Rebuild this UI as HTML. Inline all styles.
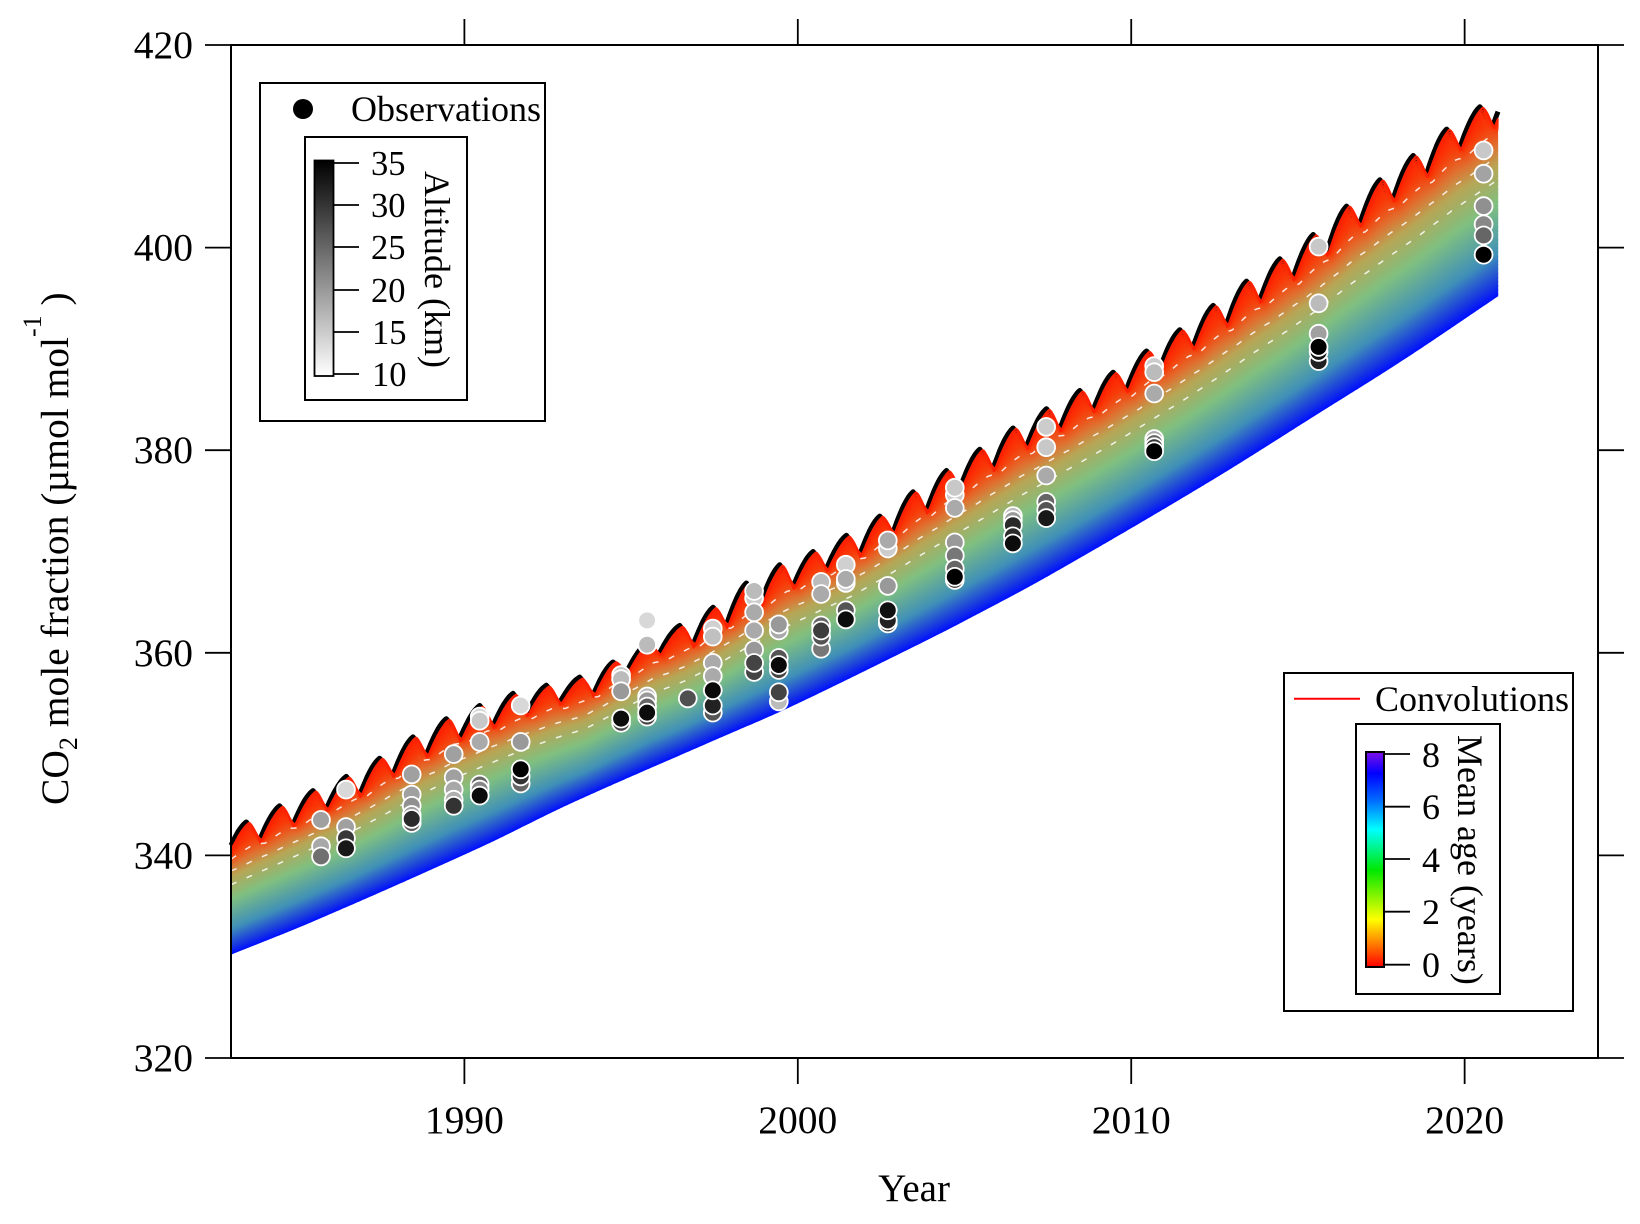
<!DOCTYPE html>
<html lang="en">
<head>
<meta charset="utf-8">
<title>CO2 mole fraction with mean age convolutions</title>
<style>
html,body{margin:0;padding:0;background:#fff;width:1640px;height:1224px;overflow:hidden}
svg{display:block}
text{font-family:"Liberation Serif","DejaVu Serif",serif;fill:#000}
</style>
</head>
<body>
<svg id="chart" xmlns="http://www.w3.org/2000/svg" width="1640" height="1224" viewBox="0 0 1640 1224">
  <defs>
    <linearGradient id="altGrad" x1="0" y1="0" x2="0" y2="1">
      <stop offset="0" stop-color="#000"/><stop offset="1" stop-color="#fff"/>
    </linearGradient>
    <linearGradient id="ageGrad" x1="0" y1="0" x2="0" y2="1">
      <stop offset="0" stop-color="#8010e8"/><stop offset="0.1" stop-color="#0000ff"/>
      <stop offset="0.23" stop-color="#0070ff"/><stop offset="0.36" stop-color="#00ffff"/>
      <stop offset="0.55" stop-color="#00e800"/><stop offset="0.78" stop-color="#ffff00"/>
      <stop offset="1" stop-color="#ff0000"/>
    </linearGradient>
  </defs>
  <g id="bands"></g>
  <g id="points"></g>
  <g id="axes"></g>

  <text x="914" y="1201" font-size="39" text-anchor="middle">Year</text>
  <text transform="translate(68,805) rotate(-90)" font-size="39.5">CO<tspan font-size="26" dy="9">2</tspan><tspan dy="-9"> mole fraction (µmol mol</tspan><tspan font-size="26" dy="-27">-1</tspan><tspan dy="27"> )</tspan></text>

  <g>
    <rect x="260" y="83" width="285" height="338" fill="#fff" stroke="#000" stroke-width="2"/>
    <circle cx="303" cy="109" r="10" fill="#000"/>
    <text x="351" y="121" font-size="36">Observations</text>
    <rect x="305" y="137" width="162" height="263" fill="#fff" stroke="#000" stroke-width="2"/>
    <rect x="314.5" y="160.5" width="19" height="215.5" fill="url(#altGrad)" stroke="#000" stroke-width="1.8"/>
    <g stroke="#000" stroke-width="1.8">
      <line x1="333" x2="359" y1="163" y2="163"/><line x1="333" x2="359" y1="205" y2="205"/>
      <line x1="333" x2="359" y1="247" y2="247"/><line x1="333" x2="359" y1="290" y2="290"/>
      <line x1="333" x2="359" y1="332" y2="332"/><line x1="333" x2="359" y1="374" y2="374"/>
    </g>
    <g font-size="34.5">
      <text x="371" y="175">35</text><text x="371" y="217">30</text><text x="371" y="259">25</text>
      <text x="371" y="302">20</text><text x="372" y="344">15</text><text x="372" y="386">10</text>
    </g>
    <text transform="translate(425,171) rotate(90)" font-size="36">Altitude (km)</text>
  </g>

  <g>
    <rect x="1284" y="673" width="289" height="338" fill="#fff" stroke="#000" stroke-width="2"/>
    <line x1="1294" x2="1360" y1="698.7" y2="698.7" stroke="#ff0000" stroke-width="2"/>
    <text x="1375" y="711" font-size="36">Convolutions</text>
    <rect x="1356" y="724" width="144" height="270" fill="#fff" stroke="#000" stroke-width="2"/>
    <rect x="1366" y="752" width="18" height="215" fill="url(#ageGrad)" stroke="#000" stroke-width="2"/>
    <g stroke="#000" stroke-width="1.8">
      <line x1="1384" x2="1410" y1="754" y2="754"/><line x1="1384" x2="1410" y1="806.7" y2="806.7"/>
      <line x1="1384" x2="1410" y1="859" y2="859"/><line x1="1384" x2="1410" y1="911.7" y2="911.7"/>
      <line x1="1384" x2="1410" y1="964.7" y2="964.7"/>
    </g>
    <g font-size="36" text-anchor="middle">
      <text x="1431" y="767">8</text><text x="1431" y="819">6</text><text x="1431" y="872">4</text>
      <text x="1431" y="924">2</text><text x="1431" y="977">0</text>
    </g>
    <text transform="translate(1458,735) rotate(90)" font-size="36">Mean age (years)</text>
  </g>
</svg>
<script>
// Axis tick labels
var xTickLabels = [1990, 2000, 2010, 2020];
var yTickLabels = [320, 340, 360, 380, 400, 420];

// Surface record: seasonal maxima for calendar years 1983..2021
var peakFirstYear = 1983;
var peakValues = [343.3,344.9,346.4,347.8,349.6,351.7,353.5,354.8,356.0,356.8,357.6,359.1,360.9,362.7,364.5,366.9,368.7,370.0,371.6,373.5,375.9,378.0,380.1,382.2,384.1,385.9,387.7,389.8,391.9,394.3,396.7,398.9,401.3,404.1,406.7,409.1,411.7,413.9,416.2];
// Surface record: seasonal minima for calendar years 1982..2020
var troughFirstYear = 1982;
var troughValues = [339.4,341.0,342.5,344.1,345.4,347.4,349.4,351.0,352.3,353.5,354.7,355.3,357.6,359.6,360.2,362.1,364.0,366.0,367.8,369.1,371.3,373.4,375.6,377.6,379.8,381.5,383.4,385.4,387.5,389.6,391.8,394.2,396.4,398.8,401.7,404.2,406.6,409.3,411.5];

// Oldest convolution (mean age 8 years)
var oldestYears = [1983.0,1985.55,1990.48,1993.17,1997.45,1999.74,2003.6,2005.03,2007.52,2012.3,2015.6,2018.2,2021.0];
var oldestValues = [330.3,333.7,340.9,345.2,351.4,354.7,360.9,363.3,367.7,376.9,383.7,389.1,395.3];

// Mean ages highlighted with dashed white lines
var dashedAges = [1, 2, 3];

// Balloon observations: year, CO2 mole fraction, altitude (km)
var obsYears = [
 1985.70,1985.70,1985.70,
 1986.45,1986.45,1986.45,1986.45,
 1988.42,1988.42,1988.42,1988.42,1988.42,1988.42,
 1989.68,1989.68,1989.68,1989.68,1989.68,
 1990.46,1990.46,1990.46,1990.46,1990.46,1990.46,
 1991.69,1991.69,1991.69,1991.69,1991.69,
 1994.70,1994.70,1994.70,1994.70,1994.70,
 1995.48,1995.48,1995.48,1995.48,1995.48,1995.48,1995.48,
 1996.70,
 1997.45,1997.45,1997.45,1997.45,1997.45,1997.45,1997.45,
 1998.69,1998.69,1998.69,1998.69,1998.69,1998.69,1998.69,
 1999.43,1999.43,1999.43,1999.43,1999.43,1999.43,1999.43,
 2000.70,2000.70,2000.70,2000.70,2000.70,2000.70,
 2001.44,2001.44,2001.44,2001.44,2001.44,
 2002.70,2002.70,2002.70,2002.70,2002.70,2002.70,
 2004.71,2004.71,2004.71,2004.71,2004.71,2004.71,2004.71,2004.71,
 2006.45,2006.45,2006.45,2006.45,2006.45,
 2007.45,2007.45,2007.45,2007.45,2007.45,2007.45,
 2010.69,2010.69,2010.69,2010.69,2010.69,2010.69,2010.69,
 2015.62,2015.62,2015.62,2015.62,2015.62,2015.62,
 2020.57,2020.57,2020.57,2020.57,2020.57,2020.57
];
var obsValues = [
 343.5,340.9,339.9,
 346.5,342.8,341.7,340.7,
 348.0,346.0,344.9,344.0,343.2,343.6,
 350.0,347.7,346.5,345.5,344.9,
 353.7,353.3,351.2,347.0,346.5,345.9,
 354.8,351.2,347.1,347.8,348.5,
 357.8,357.4,356.2,353.1,353.5,
 363.2,360.8,355.7,355.3,354.7,353.7,354.1,
 355.5,
 362.4,361.6,359.0,357.7,354.1,354.8,356.3,
 365.4,366.1,364.0,362.2,360.3,358.1,359.0,
 362.2,362.8,355.2,356.1,359.5,358.3,358.8,
 367.0,365.8,360.4,362.7,361.6,362.2,
 368.7,366.9,367.3,364.2,363.3,
 370.3,371.1,366.6,362.9,363.2,364.2,
 375.6,376.3,374.3,370.9,369.6,368.3,367.2,367.5,
 373.5,373.1,372.6,371.5,370.8,
 382.3,380.3,377.5,374.9,374.1,373.3,
 388.3,387.7,385.6,381.1,380.7,380.3,379.9,
 400.1,394.5,391.5,388.8,389.7,390.2,
 409.6,407.3,404.1,402.3,401.2,399.3
];
var obsAltitudes = [
 19.3,18.5,24,
 13.8,19.3,29.5,32.6,
 19.3,19.3,20.9,19.3,26,30.9,
 19.3,19.3,18.5,17.7,30,
 13.8,15.4,18.3,25,21.7,33.8,
 13.8,20,25,30,35,
 15.4,16.7,20,28.3,33.8,
 13.8,16.7,16.7,20,25,28.3,33.8,
 27.2,
 14.6,16.2,18.3,18.3,26.7,31.7,34,
 15,16.7,18.3,18.3,20,28.3,28.3,
 18.3,20,16.7,28.3,26.7,28.3,34,
 16.7,18.3,23.3,25,26.7,29,
 14.6,15,18.3,26.7,33.8,
 15,18.3,20,30,31.7,33.3,
 15,15.4,18.3,20,23.3,25,30,35,
 16.7,20,30.9,30.9,33.8,
 15,15.4,18.3,25,26.7,32.6,
 15,16.7,18.3,18.3,25,30,35,
 15.4,16.7,19.3,31.7,33.3,35,
 15.4,19,20.9,21.7,25,35
];

var SVGNS = 'http://www.w3.org/2000/svg';
var plot = {left: 231, right: 1598, top: 45, bottom: 1058};
var xDomain = [1983, 2024];
var yDomain = [320, 420];
var startYear = 1983, endYear = 2021;
var peakPhase = 0.46, troughPhase = 0.79, ampDecay = 0.5, lagBase = 0.085, lagRate = 0.15;

function xScale(year) {
  return plot.left + (year - xDomain[0]) / (xDomain[1] - xDomain[0]) * (plot.right - plot.left);
}
function yScale(value) {
  return plot.bottom - (value - yDomain[0]) / (yDomain[1] - yDomain[0]) * (plot.bottom - plot.top);
}
function make(tag, attrs, parent) {
  var el = document.createElementNS(SVGNS, tag);
  for (var k in attrs) el.setAttribute(k, attrs[k]);
  parent.appendChild(el);
  return el;
}
function peakAt(y) {
  var i = Math.max(0, Math.min(peakValues.length - 1, y - peakFirstYear));
  return peakValues[i];
}
function troughAt(y) {
  var i = Math.max(0, Math.min(troughValues.length - 1, y - troughFirstYear));
  return troughValues[i];
}
// Seasonal surface curve between the tabulated maxima and minima
function surface(t) {
  var y = Math.floor(t - troughPhase) + 1;
  var riseStart = y - 1 + troughPhase;
  var peakTime = y + peakPhase;
  if (t < peakTime) {
    var u = (t - riseStart) / (peakTime - riseStart);
    var riseShape = 0.6 * Math.sin(u * Math.PI / 2) + 0.4 * u;
    return troughAt(y - 1) + (peakAt(y) - troughAt(y - 1)) * riseShape;
  }
  var w = (t - peakTime) / (troughPhase - peakPhase);
  var fallShape = 0.5 * (1 - Math.cos(w * Math.PI / 2)) + 0.5 * w;
  return peakAt(y) - (peakAt(y) - troughAt(y)) * fallShape;
}
function midAt(y) { return (peakAt(y) + troughAt(y)) / 2; }
function trend(t) {
  var s = t - 0.62;
  var y = Math.floor(s);
  y = Math.max(startYear, Math.min(endYear - 2, y));
  return midAt(y) + (midAt(y + 1) - midAt(y)) * (s - y);
}
function anomaly(t) {
  while (t < startYear) t += 1;
  return surface(t) - trend(t);
}
// Smooth (Hermite) interpolation through the oldest-age readings
function oldest(t) {
  var X = oldestYears, V = oldestValues, n = X.length;
  function slope(i) {
    if (i <= 0) return (V[1] - V[0]) / (X[1] - X[0]);
    if (i >= n - 1) return (V[n - 1] - V[n - 2]) / (X[n - 1] - X[n - 2]);
    return (V[i + 1] - V[i - 1]) / (X[i + 1] - X[i - 1]);
  }
  for (var i = 0; i < n - 1; i++) {
    if (t <= X[i + 1]) {
      var h = X[i + 1] - X[i], u = (t - X[i]) / h;
      var u2 = u * u, u3 = u2 * u;
      return (2 * u3 - 3 * u2 + 1) * V[i] + (u3 - 2 * u2 + u) * h * slope(i) + (-2 * u3 + 3 * u2) * V[i + 1] + (u3 - u2) * h * slope(i + 1);
    }
  }
  return V[n - 1];
}
function convolved(t, age) {
  var base = trend(t);
  return base - (base - oldest(t)) * (age / 8) + anomaly(t - lagBase - lagRate * age) * Math.exp(-age / ampDecay);
}
function linePath(fn) {
  var d = '';
  var steps = (endYear - startYear) * 24;
  for (var i = 0; i <= steps; i++) {
    var t = startYear + i / 24;
    d += (i ? 'L' : 'M') + xScale(t).toFixed(1) + ' ' + yScale(fn(t)).toFixed(1);
  }
  return d;
}
var palette = [[0,255,30,0],[0.07,248,58,8],[0.18,224,112,48],[0.29,184,165,85],[0.5,128,192,128],[0.77,64,144,184],[0.93,24,56,224],[1,0,16,255]];
function ageColor(f) {
  for (var i = 0; i < palette.length - 1; i++) {
    if (f <= palette[i + 1][0]) {
      var a = palette[i], b = palette[i + 1], u = (f - a[0]) / (b[0] - a[0]);
      return 'rgb(' + Math.round(a[1] + (b[1] - a[1]) * u) + ',' + Math.round(a[2] + (b[2] - a[2]) * u) + ',' + Math.round(a[3] + (b[3] - a[3]) * u) + ')';
    }
  }
  return 'rgb(0,16,255)';
}

var bands = document.getElementById('bands');

var surfaceLine = make('path', {d: linePath(surface), fill: 'none', stroke: '#000', 'stroke-width': 5, 'stroke-linejoin': 'round'}, bands);



var ageCount = 140, youngest = 0.05;
for (var n = ageCount; n >= 0; n--) {
  (function (n) {
    var age = youngest + (8 - youngest) * n / ageCount;
    var line = make('path', {
      d: linePath(function (t) { return convolved(t, age); }),
      fill: 'none', stroke: ageColor(age / 8), 'stroke-width': 1.9, 'stroke-linejoin': 'round'
    }, bands);
    
    
  })(n);
}
dashedAges.forEach(function (age) {
  var line = make('path', {
    d: linePath(function (t) { return convolved(t, age); }),
    fill: 'none', stroke: '#fff', 'stroke-width': 1.5, 'stroke-opacity': 0.85, 'stroke-dasharray': '6 11'
  }, bands);
  
  
});

var pointsGroup = document.getElementById('points');
obsYears.forEach(function (year, i) {
  var g = Math.round(255 * (35 - obsAltitudes[i]) / 25);
  var dot = make('circle', {
    cx: xScale(year).toFixed(1), cy: yScale(obsValues[i]).toFixed(1), r: 8.9,
    fill: 'rgb(' + g + ',' + g + ',' + g + ')', stroke: '#fff', 'stroke-width': 1.8
  }, pointsGroup);
  
  
});

var axes = document.getElementById('axes');
var frame = make('rect', {x: plot.left, y: plot.top, width: plot.right - plot.left, height: plot.bottom - plot.top, fill: 'none', stroke: '#000', 'stroke-width': 2}, axes);



yTickLabels.forEach(function (v) {
  var y = yScale(v);
  var left = make('line', {x1: plot.left - 26, x2: plot.left, y1: y, y2: y, stroke: '#000', 'stroke-width': 1.8}, axes);
  
  
  var right = make('line', {x1: plot.right, x2: plot.right + 26, y1: y, y2: y, stroke: '#000', 'stroke-width': 1.8}, axes);
  
  
  var label = make('text', {x: 193, y: y + 13, 'font-size': 39.5, 'text-anchor': 'end'}, axes);
  label.textContent = v;
  
  
});
xTickLabels.forEach(function (v) {
  var x = xScale(v);
  var bottom = make('line', {x1: x, x2: x, y1: plot.bottom, y2: plot.bottom + 26, stroke: '#000', 'stroke-width': 1.8}, axes);
  
  
  var top = make('line', {x1: x, x2: x, y1: plot.top - 26, y2: plot.top, stroke: '#000', 'stroke-width': 1.8}, axes);
  
  
  var label = make('text', {x: x, y: 1133, 'font-size': 39.5, 'text-anchor': 'middle'}, axes);
  label.textContent = v;
  
  
});
</script>
</body>
</html>
